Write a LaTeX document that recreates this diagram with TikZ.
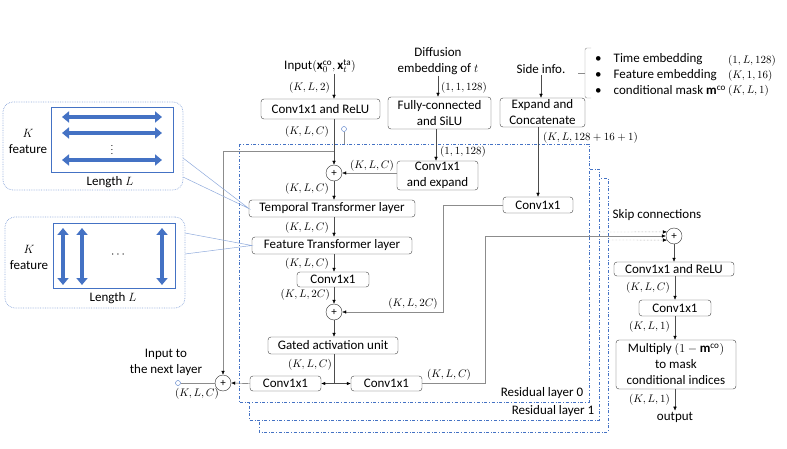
\documentclass[tikz,border=0pt]{standalone}
\usepackage{fontspec}
\setmainfont{Carlito}
\usetikzlibrary{arrows.meta}
\definecolor{resblue}{HTML}{4472C4}
\definecolor{calloutblue}{HTML}{8FAADC}
\definecolor{wiregray}{HTML}{8C8C8C}

\begin{document}
\begin{tikzpicture}[x=1pt,y=-1pt,
  blk/.style={draw=black!75,rounded corners=3pt,fill=white,align=center,inner sep=1pt,font=\fontsize{13}{16}\selectfont},
  addnode/.style={circle,draw=black!80,fill=white,minimum size=16pt,inner sep=0pt,font=\fontsize{11}{11}\selectfont},
  dim/.style={font=\fontsize{10.8}{12}\selectfont,inner sep=1pt},
  txt/.style={align=center,font=\fontsize{13}{16}\selectfont,inner sep=1pt},
  arr/.style={draw=black!70,-{Latex[length=4pt,width=3.5pt,black]}},
  wire/.style={draw=wiregray,-{Latex[length=4pt,width=3.5pt,black]}},
  dotwire/.style={draw=wiregray,densely dotted,-{Latex[length=4pt,width=3.5pt,black]}},
  port/.style={circle,draw=resblue,fill=white,minimum size=5pt,inner sep=0pt},
  reslayer/.style={draw=resblue,dash dot,fill=white,line width=0.6pt},
  panel/.style={draw=calloutblue,densely dotted,rounded corners=10pt,fill=white,line width=0.7pt},
  callout/.style={draw=calloutblue,line width=0.5pt},
  grid/.style={draw=resblue,line width=0.8pt,minimum width=122pt,minimum height=65pt},
  fatarrow/.style={draw=resblue,line width=4.5pt,{Triangle[length=7pt,width=11pt]}-{Triangle[length=7pt,width=11pt]}}
]
\useasboundingbox (0,0) rectangle (787,449);

% Residual layers (stacked)
\draw[reslayer] (259,178) rectangle (608,432);
\draw[reslayer] (249,169) rectangle (599,420);
\draw[reslayer] (239,144) rectangle (589,402);
\node[txt] (res1lbl) at (553,411) {Residual layer 1};
\node[txt] (res0lbl) at (542,393) {Residual layer 0};

% Top inputs
\node[txt] (inlbl) at (320,66) {Input$(\mathbf{x}_0^{\mathrm{co}},\mathbf{x}_t^{\mathrm{ta}})$};
\node[txt] (difflbl) at (438,61) {Diffusion\\embedding of $t$};
\node[txt] (sidelbl) at (541,69) {Side info.};

% Side info list
\draw[wiregray,rounded corners=2pt] (591,48) -- (585,48) -- (585,98) -- (591,98);
\draw[wiregray] (585,73) -- (578,73);
\node[txt,anchor=west] (side1) at (594,59) {\textbullet\hspace{12pt}Time embedding};
\node[txt,anchor=west] (side2) at (594,75) {\textbullet\hspace{12pt}Feature embedding};
\node[txt,anchor=west] (side3) at (594,90) {\textbullet\hspace{12pt}conditional mask $\mathbf{m}^{\mathrm{co}}$};
\node[dim,anchor=west] (dim1) at (727,61) {$(1,L,128)$};
\node[dim,anchor=west] (dim2) at (727,76) {$(K,1,16)$};
\node[dim,anchor=west] (dim3) at (727,91) {$(K,L,1)$};

% Blocks
\node[blk,minimum width=119pt,minimum height=20pt] (convrelu) at (320.5,109) {Conv1x1 and ReLU};
\node[blk,minimum width=103pt,minimum height=32pt] (fcsilu) at (439.5,113) {Fully-connected\\and SiLU};
\node[blk,minimum width=85pt,minimum height=29pt] (expcat) at (542.5,112.5) {Expand and\\Concatenate};
\node[blk,minimum width=81pt,minimum height=29pt] (convexp) at (437.5,175.5) {Conv1x1\\and expand};
\node[addnode] (add1) at (334,173) {+};
\node[blk,minimum width=166pt,minimum height=17pt] (temporal) at (332,208.5) {Temporal Transformer layer};
\node[blk,minimum width=160pt,minimum height=17pt] (feature) at (332,245.5) {Feature Transformer layer};
\node[blk,minimum width=72pt,minimum height=15pt] (convmid) at (333,279.5) {Conv1x1};
\node[addnode] (add2) at (334,312) {+};
\node[blk,minimum width=70pt,minimum height=16pt] (convside) at (538,205) {Conv1x1};
\node[blk,minimum width=130pt,minimum height=17pt] (gated) at (333,345.5) {Gated activation unit};
\node[blk,minimum width=71pt,minimum height=15pt] (convres) at (285.5,383.5) {Conv1x1};
\node[blk,minimum width=71pt,minimum height=15pt] (convskip) at (386.5,383.5) {Conv1x1};
\node[addnode] (add3) at (223,383) {+};
\node[port] (outport) at (178,383) {};
\node[port] (inport) at (344,129) {};
\node[txt] (nextlbl) at (166,362) {Input to\\the next layer};

% Output head
\node[txt] (skiplbl) at (657,215) {Skip connections};
\node[addnode] (skipadd) at (674,236) {+};
\node[blk,minimum width=120pt,minimum height=14pt] (outrelu) at (674,269) {Conv1x1 and ReLU};
\node[blk,minimum width=72pt,minimum height=16pt] (outconv) at (675,308) {Conv1x1};
\node[blk,minimum width=120pt,minimum height=49pt] (outmul) at (676,364.5) {Multiply $(1-\mathbf{m}^{\mathrm{co}})$\\to mask\\conditional indices};
\node[txt] (outlbl) at (675,417) {output};

% Shape labels
\node[dim,anchor=east] at (331,88) {$(K,L,2)$};
\node[dim,anchor=west] at (440,88) {$(1,1,128)$};
\node[dim,anchor=east] at (330,132) {$(K,L,C)$};
\node[dim,anchor=west] at (439,152) {$(1,1,128)$};
\node[dim] at (372,166) {$(K,L,C)$};
\node[dim,anchor=west] at (542,138) {$(K,L,128+16+1)$};
\node[dim,anchor=east] at (330,189) {$(K,L,C)$};
\node[dim,anchor=east] at (330,228) {$(K,L,C)$};
\node[dim,anchor=east] at (330,264) {$(K,L,C)$};
\node[dim,anchor=east] at (331,295) {$(K,L,2C)$};
\node[dim] at (413,304) {$(K,L,2C)$};
\node[dim,anchor=east] at (333,365) {$(K,L,C)$};
\node[dim] at (449,375) {$(K,L,C)$};
\node[dim] at (197,394) {$(K,L,C)$};
\node[dim,anchor=east] at (671,288) {$(K,L,C)$};
\node[dim,anchor=east] at (671,327) {$(K,L,1)$};
\node[dim,anchor=east] at (671,400) {$(K,L,1)$};

% Main path
\draw[arr] (inlbl.south -| add1) -- (convrelu.north -| add1);
\draw[arr] (difflbl.south) -- (difflbl.south |- fcsilu.north);
\draw[arr] (sidelbl.south) -- (sidelbl.south |- expcat.north);
\draw[arr] (convrelu.south -| add1) -- (add1.north);
\draw[arr] (fcsilu.south -| 436,0) -- (convexp.north -| 436,0);
\draw[wire] (convexp.west |- add1) -- (add1.east);
\draw[arr] (add1.south) -- (add1 |- temporal.north);
\draw[arr] (temporal.south -| add1) -- (add1 |- feature.north);
\draw[arr] (feature.south -| add1) -- (add1 |- convmid.north);
\draw[arr] (convmid.south -| add1) -- (add2.north);
\draw[arr] (expcat.south -| convside) -- (convside.north);
\draw[wire] (convside.west) -- ++(-60,0) |- (add2.east);
\draw[arr] (add2.south) -- (add2 |- gated.north);
\coordinate (split) at (334,383.5);
\draw[draw=black!70] (gated.south -| split) -- (split);
\draw[arr] (split) -- (convres.east);
\draw[arr] (split) -- (convskip.west);
\draw[arr] (convres.west) -- (add3.east);
\draw[draw=wiregray] (add3.west) -- (outport.east);

% Residual and skip wires
\coordinate (inportend) at (344,144);
\draw[draw=wiregray] (inport.south) -- (inportend);
\coordinate (resbranch) at (334,151);
\draw[wire] (resbranch) -| (add3.north);
\draw[wire] (convskip.east) -- ++(63,0) |- (skipadd.west);
\coordinate (skip1) at (599,232);
\coordinate (skip2) at (608,240);
\draw[dotwire] (skip1) -- (skipadd.150);
\draw[dotwire] (skip2) -- (skipadd.210);

% Output path
\draw[arr] (skipadd.south) -- (skipadd |- outrelu.north);
\draw[arr] (outrelu.south -| outconv) -- (outconv.north);
\draw[arr] (outconv.south) -- (outconv.south |- outmul.north);
\draw[arr] (outmul.south -| outconv) -- (outlbl.north -| outconv);

% Zoom-in panels
\draw[callout] (183,158) -- (temporal.west) -- (183,177);
\draw[callout] (185,233) -- (feature.west) -- (185,254);
\node[panel,minimum width=180pt,minimum height=88pt] (tpanel) at (93,146) {};
\node[grid] (tgrid) at (112,139.5) {};
\foreach \y in {117,133,160}
  \draw[fatarrow] (62,\y) -- (162,\y);
\node[font=\fontsize{9}{9}\selectfont,inner sep=0pt] (tdots) at (112,147) {$\vdots$};
\node[txt] (tklbl) at (28,141) {$K$\\feature};
\node[txt] (tlen) at (110,182) {Length $L$};

\node[panel,minimum width=180pt,minimum height=91pt] (fpanel) at (95,262.5) {};
\node[grid] (fgrid) at (114,255.5) {};
\foreach \x in {63,82,162}
  \draw[fatarrow] (\x,228) -- (\x,285);
\node[font=\fontsize{13}{13}\selectfont] (fdots) at (118,255) {$\cdots$};
\node[txt] (fklbl) at (29,257) {$K$\\feature};
\node[txt] (flen) at (113,298) {Length $L$};

\end{tikzpicture}
\end{document}
